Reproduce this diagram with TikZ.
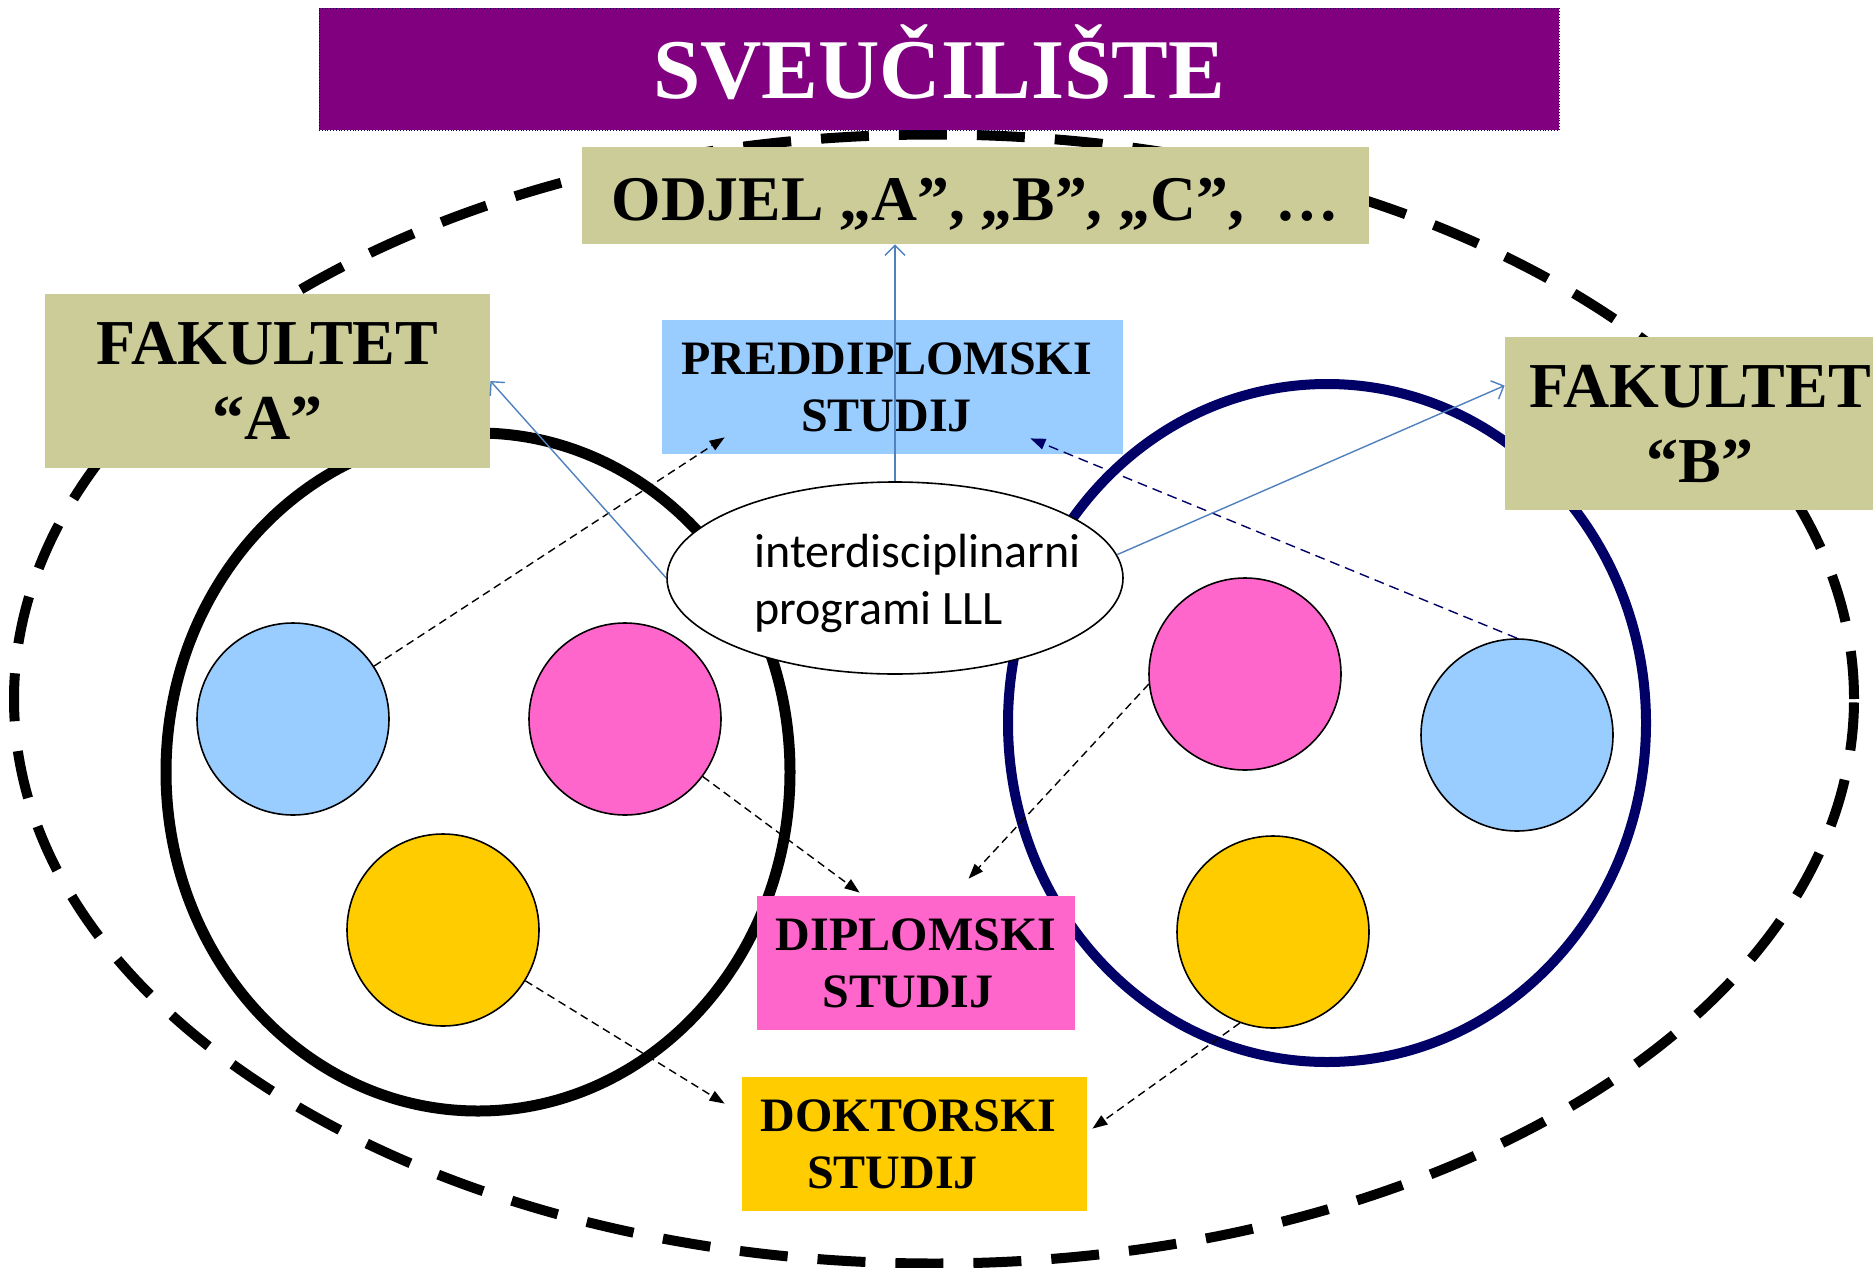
\documentclass[tikz,border=0pt]{standalone}
\usepackage{fontspec}
\setmainfont{Liberation Serif}
\newfontfamily\calfont{Carlito}
\usetikzlibrary{arrows.meta,shapes.geometric}
\definecolor{purp}{HTML}{800080}
\definecolor{khaki}{HTML}{CCCC99}
\definecolor{lblue}{HTML}{99CCFF}
\definecolor{pinkc}{HTML}{FF66CC}
\definecolor{yell}{HTML}{FFCC00}
\definecolor{navyc}{HTML}{000066}
\definecolor{steel}{HTML}{4F81BD}
\begin{document}
\begin{tikzpicture}[x=0.5pt,y=-0.5pt,
  box/.style={rectangle, inner sep=0pt, align=center},
  studyfont/.style={font=\bfseries\fontsize{24}{28.5}\selectfont},
  fakfont/.style={font=\bfseries\fontsize{32}{37.5}\selectfont},
  small/.style={circle, draw=black, line width=0.8pt, minimum size=96pt, inner sep=0pt},
  dline/.style={draw=black, line width=0.7pt, dash pattern=on 4pt off 2.5pt, -{Triangle[length=7.5pt,width=5.5pt]}},
  bline/.style={draw=steel, line width=0.7pt, -{Straight Barb[length=5pt,width=10pt]}},
]
\useasboundingbox (0,0) rectangle (1873,1268);
\fill[white] (0,0) rectangle (1873,1268);

% big ellipses
\draw[line width=5pt, dash pattern=on 24pt off 15pt] (934,699) ellipse [x radius=460pt, y radius=282.25pt];
\draw[line width=5.5pt] (478,772) ellipse [x radius=156pt, y radius=169.5pt];
\draw[navyc, line width=5pt] (1327,723) ellipse [x radius=159.5pt, y radius=169.5pt];

% small circles
\node[small, fill=lblue] (bl) at (293,719) {};
\node[small, fill=pinkc] (pl) at (625,719) {};
\node[small, fill=yell] (yl) at (443,930) {};
\node[small, fill=pinkc] (pr) at (1245,674) {};
\node[small, fill=lblue] (br) at (1517,735) {};
\node[small, fill=yell] (yr) at (1273,932) {};

% boxes
\node[box, fill=purp, draw=navyc, densely dotted, minimum width=620pt, minimum height=61pt, text=white, text height=29.1pt, text depth=0pt, font=\bfseries\fontsize{42.5}{45}\selectfont] (sv) at (939,69) {SVEUČILIŠTE};
\node[box, fill=khaki, minimum width=393.5pt, minimum height=48.5pt, text height=24.5pt, text depth=0pt, font=\bfseries\fontsize{31.8}{36}\selectfont] (odj) at (975.5,195.5) {ODJEL „A”, „B”, „C”,\ \ …};
\node[box, fill=khaki, fakfont, minimum width=222.5pt, minimum height=87pt] (fakA) at (267.5,381) {FAKULTET\\“A”};
\node[box, fill=khaki, fakfont, minimum width=195pt, minimum height=86.5pt] (fakB) at (1700,423.5) {FAKULTET\\“B”};
\node[box, fill=lblue, studyfont, minimum width=230.5pt, minimum height=67pt] (pred) at (892.5,387) {PREDDIPLOMSKI\hspace*{6pt}\\STUDIJ\hspace*{6pt}};
\node[box, fill=pinkc, studyfont, minimum width=159pt, minimum height=67pt] (dip) at (916,963) {DIPLOMSKI\\STUDIJ\hspace*{8pt}};
\node[box, fill=yell, studyfont, minimum width=172.5pt, minimum height=67pt] (dok) at (914.5,1144) {DOKTORSKI\hspace*{6pt}\\STUDIJ\hspace*{22pt}};

% central ellipse
\node[ellipse, draw=black, fill=white, line width=0.8pt, minimum width=228pt, minimum height=96pt] (lll) at (895,578) {};
\node[align=left, inner sep=0pt, anchor=west, font=\calfont\fontsize{24}{28.5}\selectfont] (lllt) at (754,583) {interdisciplinarni\\programi LLL};

% dashed connectors
\draw[dline] (bl) -- ([shift={(63,-17)}]pred.south west);
\draw[dline] (pl) -- ([shift={(103,-3)}]dip.north west);
\draw[dline] (yl) -- ([shift={(-17,27)}]dok.north west);
\draw[dline] (pr.186) -- ([shift={(212,-17)}]dip.north west);
\draw[dline] (yr.250) -- ([shift={(5,52)}]dok.north east);
\draw[dline, draw=navyc, dash pattern=on 5pt off 3pt] (br.north) -- ([shift={(-93,-16)}]pred.south east);

% blue connectors
\draw[bline] (lll.north) -- (lll.north |- odj.south);
\draw[bline] (lll.west) -- (fakA.east);
\draw[bline] (lll.6.5) -- ([shift={(0,49)}]fakB.north west);
\end{tikzpicture}
\end{document}
